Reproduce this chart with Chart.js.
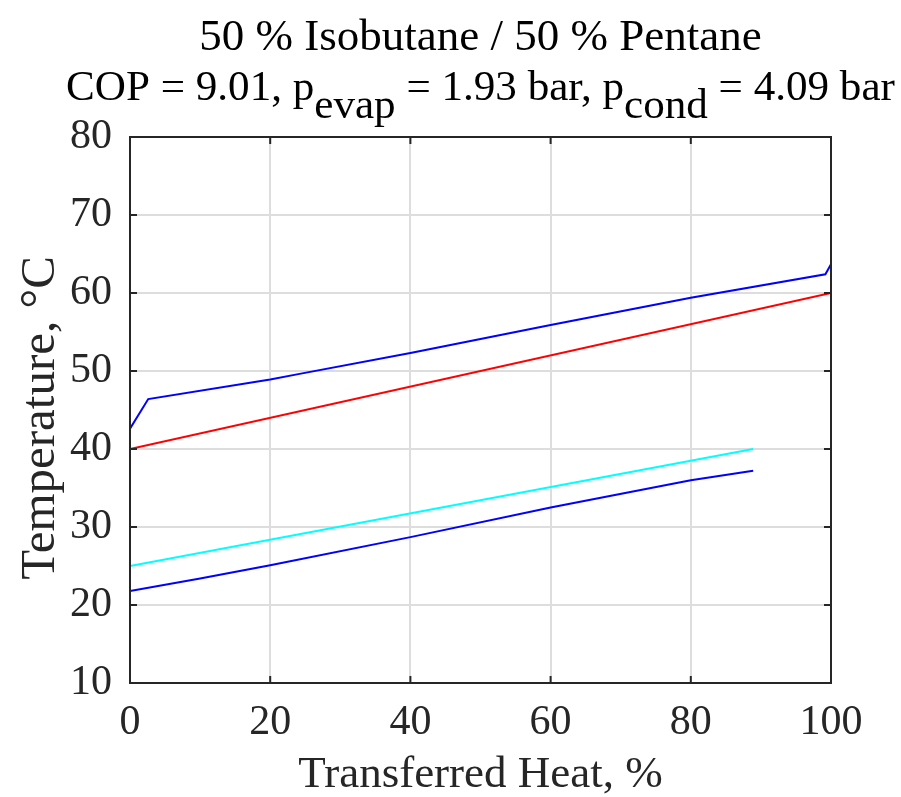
<!DOCTYPE html>
<html>
<head>
<meta charset="utf-8">
<script src="https://cdn.jsdelivr.net/npm/chart.js@4"></script>
<style>
  body { margin: 0; background: #fff; }
  canvas { display: block; }
</style>
</head>
<body>
<canvas id="chart" width="901" height="797"></canvas>
<script>
// condensing refrigerant (upper blue)
const condHeat = [0, 2.6, 20, 24, 40, 60, 80, 99.2, 100];
const condTemp = [42.6, 46.4, 48.9, 49.6, 52.3, 55.9, 59.4, 62.4, 63.7];
// heat sink (red)
const sinkHeat = [0, 100];
const sinkTemp = [40, 60];
// heat source (cyan)
const sourceHeat = [0, 88.9];
const sourceTemp = [25, 40];
// evaporating refrigerant (lower blue)
const evapHeat = [0, 10, 20, 40, 60, 80, 88.9];
const evapTemp = [21.8, 23.4, 25.1, 28.7, 32.5, 36.0, 37.2];

const xTicks = [0, 20, 40, 60, 80, 100];
const yTicks = [10, 20, 30, 40, 50, 60, 70, 80];

const titleLine1 = "50 % Isobutane / 50 % Pentane";
// [text, subscript?]
const titleLine2 = [
  ["COP = 9.01, p", false],
  ["evap", true],
  [" = 1.93 bar, p", false],
  ["cond", true],
  [" = 4.09 bar", false],
];
const xTitle = "Transferred Heat, %";
const yTitle = "Temperature, \u00B0C";

const serif = "'Liberation Serif', 'Times New Roman', serif";
const ink = "#262626";

const pts = (xs, ys) => xs.map((v, i) => ({ x: v, y: ys[i] }));

const line = (data, color) => ({
  data,
  borderColor: color,
  borderWidth: 2,
  pointRadius: 0,
  tension: 0,
  fill: false,
});

// box, inward ticks, titles
const frame = {
  id: "frame",
  afterDatasetsDraw(chart) {
    const { ctx, chartArea: a, scales } = chart;
    const x = scales.x, y = scales.y;
    ctx.save();
    ctx.strokeStyle = ink;
    ctx.lineWidth = 2;
    ctx.beginPath();
    xTicks.forEach((v) => {
      const px = x.getPixelForValue(v);
      ctx.moveTo(px, a.bottom);
      ctx.lineTo(px, a.bottom - 7);
      ctx.moveTo(px, a.top);
      ctx.lineTo(px, a.top + 7);
    });
    yTicks.forEach((v) => {
      const py = y.getPixelForValue(v);
      ctx.moveTo(a.left, py);
      ctx.lineTo(a.left + 7, py);
      ctx.moveTo(a.right, py);
      ctx.lineTo(a.right - 7, py);
    });
    ctx.stroke();
    ctx.strokeRect(a.left, a.top, a.right - a.left, a.bottom - a.top);
    ctx.restore();
  },
  afterDraw(chart) {
    const { ctx, chartArea: a } = chart;
    const cx = (a.left + a.right) / 2;
    ctx.save();
    ctx.fillStyle = "#000";
    ctx.font = "45px " + serif;
    ctx.textBaseline = "alphabetic";

    ctx.textAlign = "center";
    ctx.fillText(titleLine1, cx, 50);

    // second line with subscripts, sized to span ~828px like the original
    ctx.textAlign = "left";
    let total = 0;
    titleLine2.forEach((s) => (total += ctx.measureText(s[0]).width));
    const size = 45 * 828 / total;
    ctx.font = size.toFixed(1) + "px " + serif;
    total = 0;
    titleLine2.forEach((s) => (total += ctx.measureText(s[0]).width));
    let px = cx - total / 2;
    titleLine2.forEach((s) => {
      ctx.fillText(s[0], px, s[1] ? 118 : 100);
      px += ctx.measureText(s[0]).width;
    });

    ctx.fillStyle = ink;
    ctx.font = "45px " + serif;
    ctx.textAlign = "center";
    ctx.fillText(xTitle, cx, 787);

    ctx.font = "49px " + serif;
    ctx.translate(54, 418);
    ctx.rotate(-Math.PI / 2);
    ctx.fillText(yTitle, 0, 0);
    ctx.restore();
  },
};

new Chart(document.getElementById("chart"), {
  type: "line",
  data: {
    datasets: [
      line(pts(condHeat, condTemp), "#0000ff"),
      line(pts(sinkHeat, sinkTemp), "#ff0000"),
      line(pts(sourceHeat, sourceTemp), "#00ffff"),
      line(pts(evapHeat, evapTemp), "#0000ff"),
    ],
  },
  options: {
    responsive: false,
    animation: false,
    devicePixelRatio: 1,
    layout: { padding: { top: 137, right: 70, left: 0, bottom: 0 } },
    plugins: { legend: { display: false }, tooltip: { enabled: false } },
    scales: {
      x: {
        type: "linear",
        min: 0,
        max: 100,
        afterFit: (s) => { s.height = 114; },
        afterBuildTicks: (s) => { s.ticks = xTicks.map((v) => ({ value: v })); },
        grid: { color: "#dddddd", lineWidth: 2, drawTicks: false },
        border: { display: false },
        ticks: { font: { family: serif, size: 42 }, color: ink, padding: 15, maxRotation: 0 },
      },
      y: {
        type: "linear",
        min: 10,
        max: 80,
        afterFit: (s) => { s.width = 130; },
        afterBuildTicks: (s) => { s.ticks = yTicks.map((v) => ({ value: v })); },
        grid: { color: "#dddddd", lineWidth: 2, drawTicks: false },
        border: { display: false },
        ticks: { font: { family: serif, size: 42 }, color: ink, padding: 18 },
      },
    },
  },
  plugins: [frame],
});
</script>
</body>
</html>
